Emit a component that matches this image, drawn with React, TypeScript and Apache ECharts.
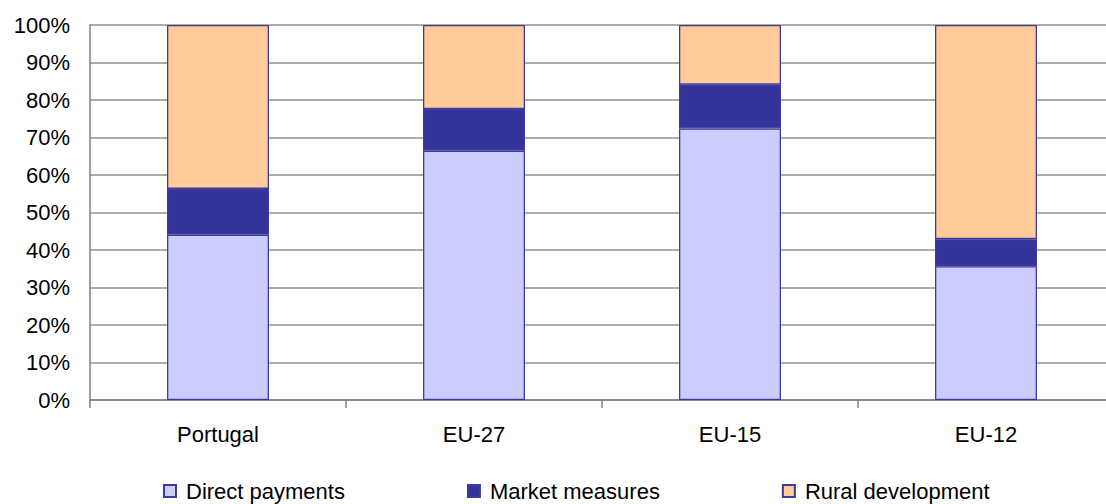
import React, { useEffect, useRef } from "react";
import * as echarts from "echarts";

const categories = ["Portugal", "EU-27", "EU-15", "EU-12"];
const directPayments = [44.1, 66.5, 72.4, 35.7];
const marketMeasures = [12.2, 11.1, 11.7, 7.2];
const ruralDevelopment = [43.7, 22.4, 15.9, 57.1];
const seriesNames = ["Direct payments", "Market measures", "Rural development"];
const colors = ["#CCCCFF", "#333399", "#FFCC99"];

export default function App() {
  const ref = useRef<HTMLDivElement>(null);
  useEffect(() => {
    if (!ref.current) return;
    document.body.style.overflow = "hidden";
    const chart = echarts.init(ref.current, null, { renderer: "svg" });
    const font = "'Liberation Sans', Arial, sans-serif";
    const data = [directPayments, marketMeasures, ruralDevelopment];
    chart.setOption({
      animation: false,
      backgroundColor: "#ffffff",
      grid: { left: 90, top: 25, width: 1024, height: 375 },
      legend: {
        left: 158,
        top: 475,
        itemWidth: 12,
        itemHeight: 12,
        itemGap: 122,
        icon: "rect",
        textStyle: {
          fontFamily: font,
          fontSize: 22,
          color: "#000",
          padding: [0, 0, 0, 5],
        },
        data: seriesNames,
      },
      xAxis: {
        type: "category",
        data: categories,
        axisLine: { lineStyle: { color: "#808080", width: 1.5 } },
        axisTick: { show: true, length: 8, lineStyle: { color: "#808080", width: 1.5 } },
        axisLabel: {
          fontFamily: font,
          fontSize: 22,
          color: "#000",
          margin: 23,
          lineHeight: 22,
        },
      },
      yAxis: {
        type: "value",
        min: 0,
        max: 100,
        interval: 10,
        axisLine: { show: true, lineStyle: { color: "#808080", width: 1.5 } },
        axisTick: { show: false },
        splitLine: { lineStyle: { color: "#909090", width: 1.5 } },
        axisLabel: {
          formatter: "{value}%",
          fontFamily: font,
          fontSize: 22,
          color: "#000",
          margin: 20,
        },
      },
      series: seriesNames.map((name, i) => ({
        name,
        type: "bar",
        stack: "total",
        barWidth: 102,
        data: data[i],
        itemStyle: {
          color: colors[i],
          borderColor: "#3c3ca0",
          borderWidth: 1.3,
        },
      })),
    });
    return () => chart.dispose();
  }, []);
  return (
    <div
      ref={ref}
      style={{ position: "fixed", left: 0, top: 0, width: 1120, height: 504 }}
    />
  );
}
